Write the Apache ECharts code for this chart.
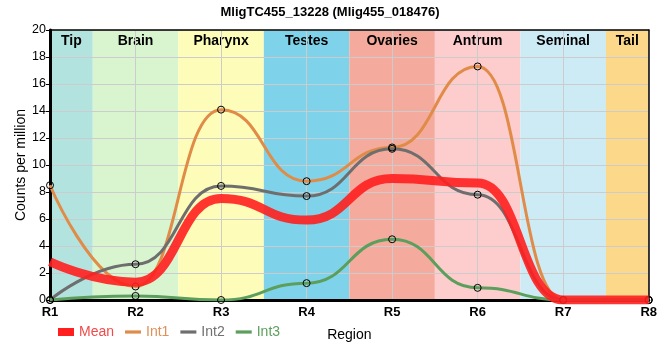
<!DOCTYPE html>
<html><head><meta charset="utf-8">
<script src="https://cdn.jsdelivr.net/npm/echarts@6/dist/echarts.min.js"></script>
<style>html,body{margin:0;padding:0;background:#fff}#c{width:660px;height:360px}</style>
</head><body><div id="c"></div>
<script>
const titleText = 'MligTC455_13228 (Mlig455_018476)';
const categories = ['R1','R2','R3','R4','R5','R6','R7','R8'];
const meanVals = [2.83, 1.32, 7.52, 5.92, 9.0, 8.67, 0, 0];
const int1Vals = [8.5, 1.0, 14.1, 8.8, 11.3, 17.3, 0, 0];
const int2Vals = [0, 2.65, 8.45, 7.7, 11.2, 7.8, 0, 0];
const int3Vals = [0, 0.3, 0, 1.25, 4.5, 0.9, 0, 0];
const bandNames = ['Tip','Brain','Pharynx','Testes','Ovaries','Antrum','Seminal','Tail'];
const bandColors = ['#b3e3de','#d8f5d0','#fdfdb9','#7ed3ea','#f4ab9e','#fdcccc','#cdebf5','#fcd98a'];
const yTicks = [0,2,4,6,8,10,12,14,16,18,20];

const FONT = 'Liberation Sans, Arial, sans-serif';
const toXY = vals => vals.map((v,i)=>[i+1, v]);
const n = categories.length;
const bands = bandNames.map((name,i)=>[
  {name, xAxis: Math.max(1, i+0.5), itemStyle:{color: bandColors[i]}},
  {xAxis: Math.min(n, i+1.5)}
]);
const lineCols = {Mean:'#ff1f1f', Int1:'#e08c48', Int2:'#6e6e6e', Int3:'#5c9e5c'};
const textCols = {Mean:'#f24a4a', Int1:'#e0905a', Int2:'#707070', Int3:'#5ea05e'};
const circle = {color:'rgba(255,255,255,0)', borderColor:'#000', borderWidth:1};
function lineSeries(name, vals, width, sym, opacity){
  return {
    name, type:'line', data: toXY(vals), z:3,
    smooth:0.5, smoothMonotone:'x',
    showSymbol: sym, symbol:'circle', symbolSize:7,
    itemStyle: Object.assign({}, circle),
    lineStyle:{color: lineCols[name], width, opacity},
    color: lineCols[name],
    emphasis:{disabled:true}
  };
}
const chart = echarts.init(document.getElementById('c'));
chart.setOption({
  animation:false,
  title:{text:titleText, left:'center', top:1, textStyle:{fontFamily:FONT, fontSize:13, fontWeight:'bold', color:'#000'}},
  grid:{left:50, right:10, top:30, bottom:60},
  legend:{
    left:53, top:320, itemGap:11, itemWidth:16, itemHeight:8,
    textStyle:{fontFamily:FONT, fontSize:14},
    data:[
      {name:'Mean', icon:'rect', itemStyle:{color:lineCols.Mean, borderWidth:0}, textStyle:{color:textCols.Mean}},
      {name:'Int1', icon:'path://M0 0H20V4H0Z', itemStyle:{color:lineCols.Int1, borderWidth:0}, textStyle:{color:textCols.Int1}},
      {name:'Int2', icon:'path://M0 0H20V4H0Z', itemStyle:{color:lineCols.Int2, borderWidth:0}, textStyle:{color:textCols.Int2}},
      {name:'Int3', icon:'path://M0 0H20V4H0Z', itemStyle:{color:lineCols.Int3, borderWidth:0}, textStyle:{color:textCols.Int3}}
    ]
  },
  xAxis:[{
    type:'value', min:1, max:n, interval:1, z:2,
    name:'Region', nameLocation:'middle', nameGap:28,
    nameTextStyle:{fontFamily:FONT, fontSize:14, color:'#000'},
    axisLine:{lineStyle:{color:'#000', width:3}},
    axisTick:{show:false},
    axisLabel:{formatter:v=>categories[v-1]||'', fontFamily:FONT, fontSize:13, fontWeight:'bold', color:'#000', margin:6},
    splitLine:{show:true, lineStyle:{color:'#cccccc', width:1}}
  },{
    type:'value', position:'top', min:1, max:n, z:2,
    axisLine:{onZero:false, lineStyle:{color:'#000', width:1.5}},
    axisTick:{show:false}, axisLabel:{show:false}, splitLine:{show:false}
  }],
  yAxis:[{
    type:'value', min:yTicks[0], max:yTicks[yTicks.length-1], interval:2, z:2,
    name:'Counts per million', nameLocation:'middle', nameGap:22, nameMoveOverlap:false,
    nameTextStyle:{fontFamily:FONT, fontSize:14, color:'#000'},
    axisLine:{show:true, lineStyle:{color:'#000', width:3}},
    axisTick:{show:true, length:4, lineStyle:{color:'#000'}},
    axisLabel:{fontFamily:FONT, fontSize:12.5, color:'#000', margin:4},
    splitLine:{show:true, lineStyle:{color:'#cccccc', width:1}}
  },{
    type:'value', position:'right', min:0, max:20, z:2,
    axisLine:{show:true, onZero:false, lineStyle:{color:'#000', width:1.5}},
    axisTick:{show:false}, axisLabel:{show:false}, splitLine:{show:false}
  }],
  series:[
    {type:'line', name:'bands', data:[], z:1, silent:true,
     markArea:{silent:true, z:1,
       label:{show:true, position:'insideTop', distance:4, color:'#000', fontFamily:FONT, fontSize:14, fontWeight:'bold'},
       itemStyle:{opacity:1},
       data:bands}},
    lineSeries('Int1', int1Vals, 3, true, 1),
    lineSeries('Int2', int2Vals, 3, true, 1),
    lineSeries('Int3', int3Vals, 3, true, 1),
    Object.assign(lineSeries('Mean', meanVals, 9, false, 0.9), {z:4}),
  ]
});
</script></body></html>
